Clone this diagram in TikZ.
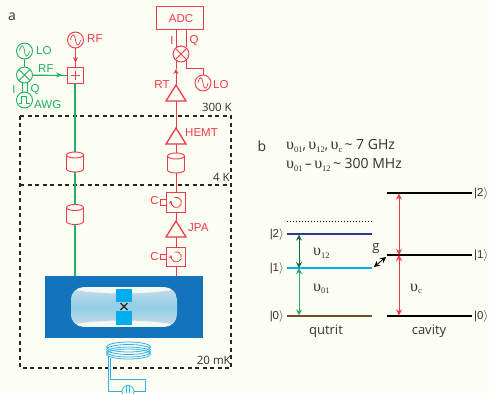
\documentclass[tikz,border=0pt]{standalone}
\usepackage{fontspec}
\setmainfont{Liberation Sans}
\newfontfamily\myr{Open Sans}
\newfontfamily\ups{Liberation Serif}
\usetikzlibrary{arrows.meta,calc}
\definecolor{bg}{HTML}{FCFDF3}
\definecolor{rd}{HTML}{EE3A4A}
\definecolor{gn}{HTML}{22AE6C}
\definecolor{dgn}{HTML}{0B6B3E}
\definecolor{blu}{HTML}{1374BB}
\definecolor{cy}{HTML}{00AEEF}
\definecolor{coil}{HTML}{2FB3E6}
\definecolor{txt}{HTML}{333333}
\definecolor{shA}{HTML}{C3DCE8}
\definecolor{shB}{HTML}{90CDE6}
\definecolor{shW}{HTML}{F4F8F6}
\newcommand{\sinewave}{\draw[line width=.7pt] ($(path picture bounding box.center)+(-5,0)$) .. controls +(1.5,-7) and +(-1,-7) .. ($(path picture bounding box.center)$) .. controls +(1,7) and +(-1.5,7) .. ($(path picture bounding box.center)+(5,0)$);}
\newcommand{\pulsewave}{\draw[line width=.7pt] ($(path picture bounding box.center)+(-6,3.5)$) -- ++(3,0) -- ++(0,-7) -- ++(5,0) -- ++(0,7) -- ++(3,0);}
\newcommand{\crosswave}{\draw[line width=.8pt] (path picture bounding box.north west) -- (path picture bounding box.south east) (path picture bounding box.north east) -- (path picture bounding box.south west);}
\newcommand{\circwave}{\draw[rd,line width=.8pt,-{Stealth[length=3.5pt,width=3.5pt]}] ($(path picture bounding box.center)+(-1.5,-5)$) arc[start angle=-110,end angle=200,radius=5.2];}
\newcommand{\frm}[2]{\draw[#2,line width=.9pt] (#1.north west) rectangle (#1.south east);}
\newcommand{\amp}[3]{%
  \coordinate (#1) at (#2,#3);
  \coordinate (#1t) at (#2,#3-16);
  \draw[rd,line width=1.3pt,fill=bg,line join=miter] (#2-10,#3) -- (#2+10,#3) -- (#2,#3-16) -- cycle;}
\newcommand{\cyl}[3]{%
  \node[minimum width=17pt,minimum height=20pt,inner sep=0pt] (#1) at (#2,#3) {};
  \draw[rd,line width=.9pt,fill=bg] (#2-8.5,#3-7) -- (#2-8.5,#3+7) arc[start angle=180,end angle=360,x radius=8.5,y radius=-3] -- (#2+8.5,#3-7) arc[start angle=0,end angle=180,x radius=8.5,y radius=-3] -- cycle;
  \draw[rd,line width=.9pt] (#2-8.5,#3-7) arc[start angle=180,end angle=360,x radius=8.5,y radius=-3];}
\tikzset{
  x=1pt,y=-1pt,
  lbl/.style={inner sep=0pt,font=\fontsize{11.5}{12}\selectfont},
  rl/.style={lbl,text=rd},
  gl/.style={lbl,text=gn},
  bl/.style={inner sep=0pt,text=txt,font=\myr\fontsize{11.5}{12}\selectfont},
  osc/.style={#1,circle,draw,line width=.9pt,minimum size=16pt,inner sep=0pt,fill=bg,path picture={\sinewave}},
  awg/.style={#1,circle,draw,line width=.9pt,minimum size=16pt,inner sep=0pt,fill=bg,path picture={\pulsewave}},
  mix/.style={#1,circle,draw,line width=.9pt,minimum size=16pt,inner sep=0pt,fill=bg,path picture={\crosswave}},
  circu/.style={rectangle,minimum size=19pt,inner sep=0pt,fill=bg,path picture={\circwave}},
  stub/.style={rectangle,minimum size=5pt,inner sep=0pt,fill=bg},
  wire/.style={line width=.9pt},
  both/.style={{Stealth[length=6pt,width=6pt]}-{Stealth[length=6pt,width=6pt]},line width=1pt},
  stageline/.style={line width=1.1pt,dash pattern=on 4pt off 3.5pt,draw=black!85},
  lev/.style={line width=1.1pt},
  bigt/.style={bl,font=\myr\fontsize{13}{14}\selectfont},
  topt/.style={bl,font=\myr\fontsize{14}{14}\selectfont},
  ket/.style={bl,font=\fontsize{11.5}{12}\selectfont},
}
\newcommand{\us}[1]{{\ups\fontsize{16}{14}\selectfont υ\raisebox{-2.5pt}{\fontsize{8.5}{9}\selectfont #1}}}
\begin{document}
\begin{tikzpicture}
\useasboundingbox (0,0) rectangle (489,393);
\fill[bg] (0,0) rectangle (489,393);

% fridge stages
\coordinate (d1) at (20,116); \coordinate (d2) at (231,116);
\coordinate (d3) at (231,368); \coordinate (d4) at (20,368);
\coordinate (m1) at (0,185); \coordinate (m2) at (231,185);
\draw[stageline] (d1) -- (d2) -- (d3) -- (d4) -- cycle;
\draw[stageline] (d1|-m1) -- (m2);

% trunk line and combiner, drawn first
\node[rectangle,minimum size=15.5pt,inner sep=0pt] (addbox) at (75.5,75.5) {};
\coordinate (gtop) at (75,83.5); \coordinate (gbot) at (75,276);
\coordinate (rtop) at (75.8,83.5); \coordinate (rbot) at (75.8,276);
\draw[color=rd,line width=.7pt] (rtop) -- (rbot);
\draw[color=gn,line width=1.1pt] (gtop) -- (gbot);
\draw[color=rd,line width=.9pt] (addbox.north west) rectangle (addbox.south east);
\draw[color=rd,line width=.9pt] (71,75.5) -- (80,75.5) (75.5,71) -- (75.5,80);

% sample
\node[fill=blu,minimum width=158pt,minimum height=62pt,inner sep=0pt] (chip) at (124,307) {};
\begin{scope}
  \clip[rounded corners=13pt] (71,287) rectangle (177,327);
  \fill[shW] (71,287) rectangle (177,327);
  \shade[top color=shA,bottom color=shB] (71,289) .. controls (95,295) and (150,295) .. (177,289) -- (177,307) -- (71,307) -- cycle;
  \shade[bottom color=shA,top color=shB] (71,307) -- (177,307) -- (177,325) .. controls (150,319) and (95,319) .. (71,325) -- cycle;
\end{scope}
\node[fill=cy,minimum width=16pt,minimum height=13.5pt,inner sep=0pt] (padt) at (124,295.5) {};
\node[fill=cy,minimum width=16pt,minimum height=14pt,inner sep=0pt] (padb) at (124,318) {};
\draw[line width=1.2pt,black!85] (120.5,303) -- (127.5,310) (127.5,303) -- (120.5,310);

% coil
\foreach \yy in {347,349.5,352,354} \draw[coil,line width=.8pt] (128.5,\yy) ellipse[x radius=22,y radius=5];
\coordinate (c1) at (108,356); \coordinate (c2) at (110.5,358);
\node[minimum size=12pt,inner sep=0pt] (sq) at (128,391.5) {};
\draw[coil,line width=.8pt] (sq) circle[radius=6];
\draw[coil,line width=.8pt] (126.5,386) -- (126.5,393) (129.5,386) -- (129.5,393);
\draw[coil,line width=.8pt] (c1) -- (108,391.5) -- (sq.west);
\draw[coil,line width=.8pt] (c2) -- (110.5,379) -- (145,379) -- (145,391.5) -- (sq.east);

% green drive
\draw[gn,wire] (24.5,51) -- (24.5,75);
\draw[gn,wire] (22,75) -- (22,100) (27,75) -- (27,100);
\node[osc=gn] (lo1) at (24.5,51) {};
\node[mix=gn] (mx1) at (24.5,75) {};
\node[awg=gn] (awg) at (24.5,100) {};
\draw[gn,wire] (mx1.east) -- (addbox.west);
\draw[gn,-{Stealth[length=6pt,width=5pt]},wire] (mx1.east) -- (62,75);
\node[osc=rd] (rf) at (75.5,40) {};
\draw[rd,wire,-{Stealth[length=6pt,width=5pt]}] (rf.south) -- (75.5,63);
\draw[rd,wire] (75.5,62) -- (addbox.north);
\cyl{cg1}{75}{162}
\cyl{cg2}{75}{214.5}
\node[gl,anchor=west] at (36,51) {LO};
\node[gl,anchor=west] at (38,69) {RF};
\node[gl] at (14,90) {I};
\node[gl] at (35,90) {Q};
\node[gl,anchor=west] at (34,105) {AWG};
\node[rl,anchor=west] at (87,39) {RF};

% red readout
\node[rectangle,minimum width=46pt,minimum height=22pt,inner sep=0pt] (adc) at (180,18) {};
\frm{adc}{rd}
\node[rl] at (181,19) {ADC};
\node[mix=rd] (mx2) at (181,54) {};
\node[osc=rd] (lo2) at (203,83) {};
\coordinate (jn) at (186,68);
\draw[rd,wire] (176,29) -- (176,47.5);
\draw[rd,wire] (186,29) -- (186,47.5);
\draw[rd,wire] (186,60.5) -- (jn) -- (203,68) -- (lo2.north);
\draw[rd,wire] (176,101) -- (176,276);
\amp{rt}{176}{101}
\amp{hemt}{176}{144}
\amp{jpa}{176}{237}
\draw[rd,wire,-{Stealth[length=5pt,width=5pt]}] (rtt) -- (176,69);
\draw[rd,wire] (176,69) -- (176,61);
\cyl{cr1}{176}{163}
\node[circu] (c1b) at (176,202.5) {};
\node[circu] (c2b) at (176,257) {};
\frm{c1b}{rd}
\frm{c2b}{rd}
\node[stub] (s1) at (163.5,202.5) {};
\node[stub] (s2) at (163.5,257) {};
\frm{s1}{rd}
\frm{s2}{rd}
\node[rl] at (172,41) {I};
\node[rl] at (194,41) {Q};
\node[rl] at (162,85) {RT};
\node[rl,anchor=west] at (213,85) {LO};
\node[rl,anchor=west] at (185,133) {HEMT};
\node[rl] at (154.5,201) {C};
\node[rl] at (154.5,257) {C};
\node[rl,anchor=west] at (188,228) {JPA};
\node[bl,anchor=east] at (232,107) {300 K};
\node[bl,anchor=east] at (230,177) {4 K};
\node[bl,anchor=east] at (231,360) {20 mK};
\node[topt] at (12,17) {a};
\node[topt] at (262,146) {b};

% part b
\node[topt,anchor=west] at (286,146) {\us{01},\,\us{12},\,\us{c}\,\char"7E\ 7 GHz};
\node[topt,anchor=west] at (286,165) {\us{01}\,–\,\us{12}\,\char"7E\ 300 MHz};

\coordinate (q2l) at (287,234); \coordinate (q2r) at (372,234);
\coordinate (q1l) at (287,268); \coordinate (q1r) at (372,268);
\coordinate (q0l) at (287,316); \coordinate (q0r) at (372,316);
\coordinate (c2l) at (387,193); \coordinate (c2r) at (472,193);
\coordinate (c1l) at (387,255); \coordinate (c1r) at (472,255);
\coordinate (c0l) at (387,316); \coordinate (c0r) at (472,316);
\coordinate (dl) at (287,221); \coordinate (dr) at (372,221);
\draw[line width=1pt,dash pattern=on 1.2pt off 1.8pt] (dl) -- (dr);
\draw[lev,color={rgb,255:red,43;green,57;blue,144}] (q2l) -- (q2r);
\draw[lev,cy] (q1l) -- (q1r);
\draw[lev,color={rgb,255:red,117;green,76;blue,41}] (q0l) -- (q0r);
\draw[lev,black] (c2l) -- (c2r);
\draw[lev,black] (c1l) -- (c1r);
\draw[lev,black] (c0l) -- (c0r);
\coordinate (a2) at (299,234.6); \coordinate (a1) at (299,268); \coordinate (a0) at (299,315.4);
\draw[both,dgn] (a2) -- (a1);
\draw[both,gn] (a1) -- (a0);
\coordinate (b2) at (399,193.6); \coordinate (b1) at (399,255); \coordinate (b0) at (399,315.4);
\draw[both,rd] (b2) -- (b1);
\draw[both,rd] (b1) -- (b0);
\coordinate (g1) at (374,267); \coordinate (g2) at (386,257);
\draw[both,black,line width=.8pt] (g1) -- (g2);
\node[bigt] at (376,249) {g};
\foreach \yy/\tt in {234/2,268/1,316/0}
  \node[ket,anchor=east] at (284,\yy) {|\tt$\rangle$};
\foreach \yy/\tt in {193/2,255/1,316/0}
  \node[ket,anchor=west] at (474,\yy) {|\tt$\rangle$};
\node[bl,anchor=west] at (313,253) {\us{12}};
\node[bl,anchor=west] at (313,289) {\us{01}};
\node[bl,anchor=west] at (410,289) {\us{c}};
\node[bigt] at (326,331) {qutrit};
\node[bigt] at (429,331) {cavity};
\end{tikzpicture}
\end{document}
